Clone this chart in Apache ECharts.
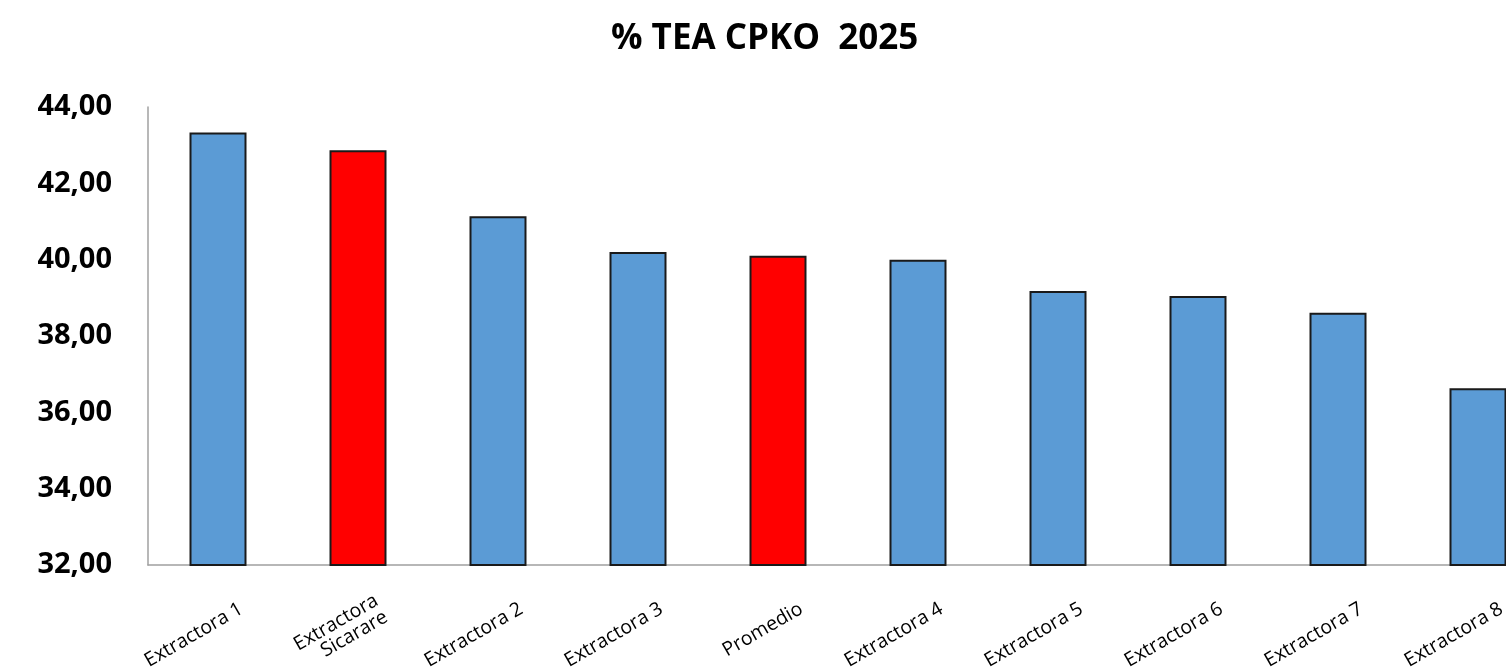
<!DOCTYPE html>
<html>
<head>
<meta charset="utf-8">
<script src="https://cdn.jsdelivr.net/npm/echarts@6/dist/echarts.min.js"></script>
<style>
html,body{margin:0;padding:0;background:#fff;}
#chart{width:1506px;height:670px;}
</style>
</head>
<body>
<div id="chart"></div>
<script>
const categories = ["Extractora 1", "Extractora\nSicarare", "Extractora 2", "Extractora 3", "Promedio", "Extractora 4", "Extractora 5", "Extractora 6", "Extractora 7", "Extractora 8"];
const values = [43.33, 42.87, 41.14, 40.20, 40.10, 40.00, 39.18, 39.05, 38.61, 36.63];
const highlighted = ["Extractora\nSicarare", "Promedio"];
const titleText = "% TEA CPKO  2025";

const chart = echarts.init(document.getElementById('chart'), null, {renderer: 'canvas'});
chart.setOption({
  animation: false,
  backgroundColor: '#ffffff',
  title: {
    text: titleText,
    left: 606,
    top: 17,
    textStyle: {fontFamily: 'Open Sans', fontWeight: 'bold', fontSize: 35, color: '#000'}
  },
  grid: {left: 148, top: 107, bottom: 105, right: -42, containLabel: false, outerBoundsMode: 'none'},
  xAxis: {
    type: 'category',
    data: categories,
    axisLine: {show: true, lineStyle: {color: '#a0a0a0', width: 1.5}},
    axisTick: {show: false},
    axisLabel: {
      rotate: 30,
      interval: 0,
      margin: 56,
      fontFamily: 'Open Sans',
      fontSize: 19.5,
      color: '#000',
      align: 'right',
      lineHeight: 19,
      padding: [0, -27, 0, 0]
    }
  },
  yAxis: {
    type: 'value',
    min: 32,
    max: 44,
    interval: 2,
    axisLine: {show: true, lineStyle: {color: '#a0a0a0', width: 1.5}},
    axisTick: {show: false},
    splitLine: {show: false},
    axisLabel: {
      margin: 36,
      fontFamily: 'Open Sans',
      fontWeight: 'bold',
      fontSize: 29,
      color: '#000',
      formatter: v => v.toFixed(2).replace('.', ',')
    }
  },
  series: [{
    type: 'bar',
    barWidth: 57,
    data: values.map((v, i) => ({
      value: v,
      itemStyle: {color: highlighted.includes(categories[i]) ? '#ff0000' : '#5b9bd5'}
    })),
    itemStyle: {borderColor: '#1a1a1a', borderWidth: 2}
  }]
});
</script>
</body>
</html>
